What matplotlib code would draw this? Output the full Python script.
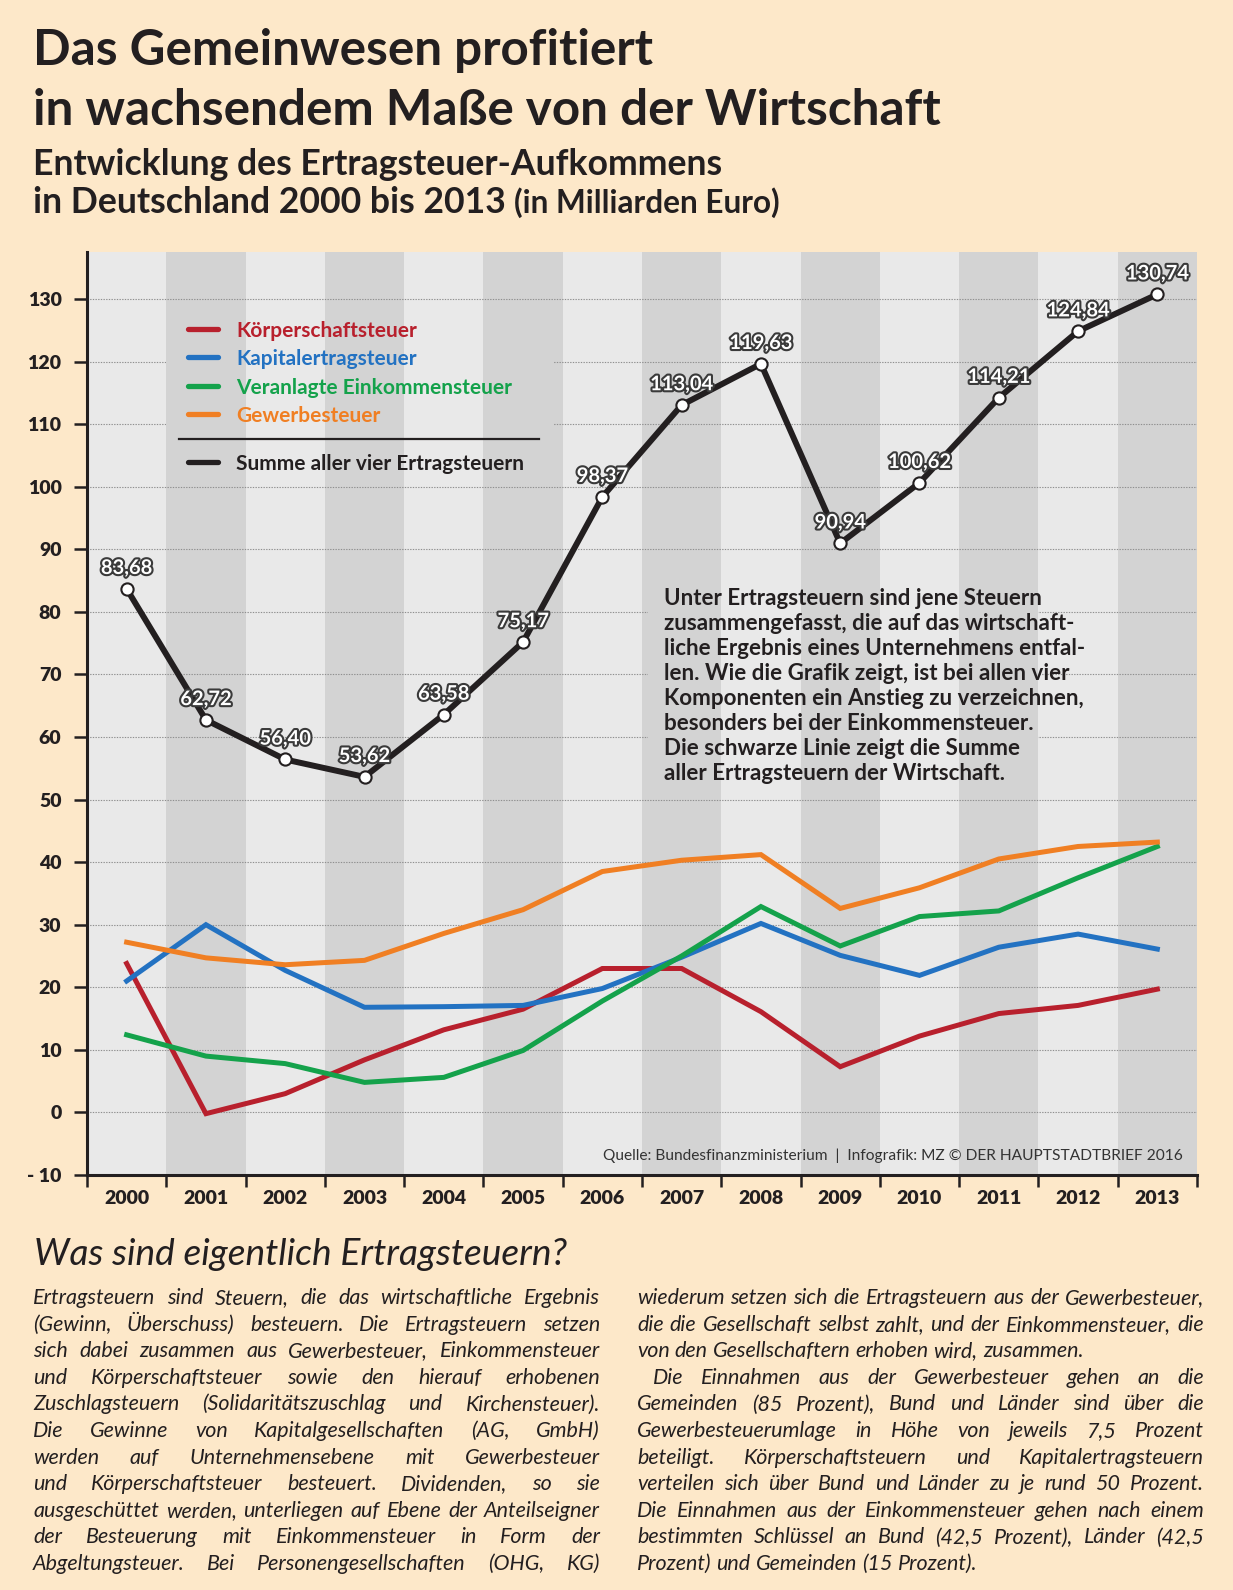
import matplotlib
matplotlib.use("Agg")
import matplotlib.pyplot as plt
import matplotlib.patheffects as pe
from matplotlib.patches import Rectangle
from matplotlib.lines import Line2D

# ---------------- data ----------------
years = [2000, 2001, 2002, 2003, 2004, 2005, 2006, 2007, 2008, 2009, 2010, 2011, 2012, 2013]
koerperschaftsteuer = [23.8, -0.2, 3.0, 8.4, 13.2, 16.5, 23.0, 23.0, 16.1, 7.3, 12.2, 15.8, 17.1, 19.7]
kapitalertragsteuer = [21.0, 30.0, 22.7, 16.8, 16.9, 17.1, 19.8, 24.8, 30.2, 25.1, 21.9, 26.4, 28.5, 26.1]
einkommensteuer = [12.4, 9.0, 7.8, 4.8, 5.6, 9.9, 17.8, 25.0, 32.9, 26.6, 31.3, 32.2, 37.5, 42.5]
gewerbesteuer = [27.2, 24.7, 23.6, 24.3, 28.6, 32.4, 38.5, 40.3, 41.2, 32.6, 35.9, 40.5, 42.5, 43.2]
summe = [83.68, 62.72, 56.40, 53.62, 63.58, 75.17, 98.37, 113.04, 119.63, 90.94, 100.62, 114.21, 124.84, 130.74]

series_names = ["Körperschaftsteuer", "Kapitalertragsteuer", "Veranlagte Einkommensteuer", "Gewerbesteuer"]
sum_name = "Summe aller vier Ertragsteuern"
y_ticks = [-10, 0, 10, 20, 30, 40, 50, 60, 70, 80, 90, 100, 110, 120, 130]

title_lines = ["Das Gemeinwesen profitiert", "in wachsendem Maße von der Wirtschaft"]
subtitle_1 = "Entwicklung des Ertragsteuer-Aufkommens"
subtitle_2 = "in Deutschland 2000 bis 2013"
subtitle_unit = "(in Milliarden Euro)"
note_lines = [
    "Unter Ertragsteuern sind jene Steuern",
    "zusammengefasst, die auf das wirtschaft-",
    "liche Ergebnis eines Unternehmens entfal-",
    "len. Wie die Grafik zeigt, ist bei allen vier",
    "Komponenten ein Anstieg zu verzeichnen,",
    "besonders bei der Einkommensteuer.",
    "Die schwarze Linie zeigt die Summe",
    "aller Ertragsteuern der Wirtschaft.",
]
source_text = "Quelle: Bundesfinanzministerium  |  Infografik: MZ © DER HAUPTSTADTBRIEF 2016"
heading = "Was sind eigentlich Ertragsteuern?"
left_col = [
    "Ertragsteuern sind Steuern, die das wirtschaftliche Ergebnis",
    "(Gewinn, Überschuss) besteuern. Die Ertragsteuern setzen",
    "sich dabei zusammen aus Gewerbesteuer, Einkommensteuer",
    "und Körperschaftsteuer sowie den hierauf erhobenen",
    "Zuschlagsteuern (Solidaritätszuschlag und Kirchensteuer).",
    "Die Gewinne von Kapitalgesellschaften (AG, GmbH)",
    "werden auf Unternehmensebene mit Gewerbesteuer",
    "und Körperschaftsteuer besteuert. Dividenden, so sie",
    "ausgeschüttet werden, unterliegen auf Ebene der Anteilseigner",
    "der Besteuerung mit Einkommensteuer in Form der",
    "Abgeltungsteuer. Bei Personengesellschaften (OHG, KG)",
]
right_col = [
    "wiederum setzen sich die Ertragsteuern aus der Gewerbesteuer,",
    "die die Gesellschaft selbst zahlt, und der Einkommensteuer, die",
    "von den Gesellschaftern erhoben wird, zusammen.",
    "Die Einnahmen aus der Gewerbesteuer gehen an die",
    "Gemeinden (85 Prozent), Bund und Länder sind über die",
    "Gewerbesteuerumlage in Höhe von jeweils 7,5 Prozent",
    "beteiligt. Körperschaftsteuern und Kapitalertragsteuern",
    "verteilen sich über Bund und Länder zu je rund 50 Prozent.",
    "Die Einnahmen aus der Einkommensteuer gehen nach einem",
    "bestimmten Schlüssel an Bund (42,5 Prozent), Länder (42,5",
    "Prozent) und Gemeinden (15 Prozent).",
]
right_last = {2, 10}      # paragraph-ending lines (not justified)
right_indent = {3}        # indented first line of paragraph
left_last = set()

# ---------------- style ----------------
W, H, DPI = 1233, 1590, 100
plt.rcParams['font.family'] = ['Lato', 'DejaVu Sans']
INK = '#231F20'
BG = '#FDE8C9'
BAND_L = '#E9E9E9'
BAND_D = '#D3D3D3'
GRID = '#8f8f8f'
COLORS = ['#B8202D', '#2372C2', '#14A24B', '#F07F23']

fig = plt.figure(figsize=(W / DPI, H / DPI), dpi=DPI, facecolor=BG)
renderer = fig.canvas.get_renderer()


def fx(x):
    return x / W


def fy(y):
    return 1 - y / H


def measure(s, size, **kw):
    t = fig.text(0.2, 0.5, s, fontsize=size, **kw)
    bb = t.get_window_extent(renderer)
    t.remove()
    return bb.width


def fit_size(s, target, base=20.0, **kw):
    return base * target / measure(s, base, **kw)


def ptext(x, y, s, **kw):
    return fig.text(fx(x), fy(y), s, va='baseline', **kw)


# ---------------- axes ----------------
AX_L, AX_R, AX_T, AX_B = 87, 1197, 252, 1175
ax = fig.add_axes([fx(AX_L), fy(AX_B), (AX_R - AX_L) / W, (AX_B - AX_T) / H])
ax.set_facecolor(BAND_L)
n = len(years)
xs = list(range(n))
ax.set_xlim(-0.5, n - 0.5)
ax.set_ylim(-10, 137.5)


def band_color(i):
    return BAND_D if i % 2 == 1 else BAND_L


for i in xs:
    if i % 2 == 1:
        ax.axvspan(i - 0.5, i + 0.5, color=BAND_D, lw=0, zorder=0.5)
for v in y_ticks[1:]:
    ax.axhline(v, color=GRID, lw=0.8, ls=(0, (1.2, 1.2)), zorder=1)


def cover(x0, x1, y0, y1):
    for i in xs:
        a, b = max(x0, i - 0.5), min(x1, i + 0.5)
        if b > a:
            ax.add_patch(Rectangle((a, y0), b - a, y1 - y0, facecolor=band_color(i),
                                   lw=0, zorder=1.5))


cover(0.5, 5.38, 101, 128)     # behind legend
cover(6.57, 11.5, 51, 89)      # behind the note text

for vals, c in zip([koerperschaftsteuer, kapitalertragsteuer, einkommensteuer, gewerbesteuer], COLORS):
    ax.plot(xs, vals, color=c, lw=3.6, solid_joinstyle='miter', zorder=3)

ax.plot(xs, summe, color=INK, lw=4.3, zorder=4, marker='o', markersize=8.8,
        markerfacecolor='white', markeredgecolor=INK, markeredgewidth=1.5)

for i, v in zip(xs, summe):
    ax.annotate(f"{v:.2f}".replace('.', ','), (i, v), xytext=(0, 15), textcoords='offset points',
                ha='center', va='center', fontsize=14.5, fontweight='bold', color='white', zorder=6,
                path_effects=[pe.withStroke(linewidth=3.0, foreground='#3a3a3a')])

# ticks
ax.set_yticks(y_ticks)
ax.set_yticklabels(['- 10' if v == -10 else str(v) for v in y_ticks])
ax.tick_params(axis='y', direction='out', length=9.4, width=1.8, color=INK, pad=9,
               labelsize=14, labelcolor=INK)
for lab in ax.get_yticklabels():
    lab.set_fontweight('heavy')
ax.set_xticks([i - 0.5 for i in range(n + 1)])
ax.set_xticklabels([])
ax.set_xticks(xs, minor=True)
ax.set_xticklabels([str(y) for y in years], minor=True)
ax.tick_params(axis='x', which='major', direction='out', length=8.6, width=1.8, color=INK)
ax.tick_params(axis='x', which='minor', length=0, pad=11, labelsize=14, labelcolor=INK)
for lab in ax.get_xticklabels(minor=True):
    lab.set_fontweight('heavy')
for s in ['top', 'right']:
    ax.spines[s].set_visible(False)
for s in ['left', 'bottom']:
    ax.spines[s].set_color(INK)
    ax.spines[s].set_linewidth(2.2)
    ax.spines[s].set_zorder(7)

# ---------------- legend (manual) ----------------
leg_rows = [329, 357, 386, 414]
for name, c, yy in zip(series_names, COLORS, leg_rows):
    fig.add_artist(Line2D([fx(188), fx(218)], [fy(yy), fy(yy)], color=c, lw=3.8,
                          solid_capstyle='round', transform=fig.transFigure, zorder=8))
    fig.text(fx(236), fy(yy), name, color=c, fontsize=15, fontweight='bold', va='center_baseline',
             zorder=8)
fig.add_artist(Line2D([fx(179), fx(539)], [fy(439), fy(439)], color=INK, lw=1.6,
                      transform=fig.transFigure, zorder=8))
fig.add_artist(Line2D([fx(188), fx(218)], [fy(462), fy(462)], color=INK, lw=3.8,
                      solid_capstyle='round', transform=fig.transFigure, zorder=8))
fig.text(fx(236), fy(462), sum_name, color=INK, fontsize=15, fontweight='bold',
         va='center_baseline', zorder=8)

# ---------------- note text inside chart ----------------
note_size = fit_size(note_lines[1], 411, weight='bold')
for k, line in enumerate(note_lines):
    ptext(664, 605 + 25 * k, line, fontsize=note_size, fontweight='bold', color=INK, zorder=8)

# source
src_size = fit_size(source_text, 582)
ptext(603, 1160, source_text, fontsize=src_size, color='#333333', zorder=8)

# ---------------- titles ----------------
s1 = fit_size(title_lines[0], 620, weight='bold')
s2 = fit_size(title_lines[1], 910, weight='bold')
ts = (s1 + s2) / 2
ptext(33, 65, title_lines[0], fontsize=ts, fontweight='bold', color=INK)
ptext(33, 125, title_lines[1], fontsize=ts, fontweight='bold', color=INK)

ss = fit_size(subtitle_1, 691, weight='bold')
ptext(33, 175, subtitle_1, fontsize=ss, fontweight='bold', color=INK)
ptext(33, 213, subtitle_2, fontsize=ss, fontweight='bold', color=INK)
us = fit_size(subtitle_unit, 266, weight='bold')
ptext(514, 213, subtitle_unit, fontsize=us, fontweight='bold', color=INK)

# ---------------- bottom text ----------------
hs = fit_size(heading, 533, style='italic')
ptext(34, 1265, heading, fontsize=hs, style='italic', color=INK)

base_size = fit_size("Ertragsteuern", 122, style='italic')


def justify(lines, x0, x1, y0, dy, last_set, indent_set):
    for k, line in enumerate(lines):
        y = y0 + dy * k
        start = x0 + (16 if k in indent_set else 0)
        avail = x1 - start
        size = base_size
        nat = measure(line, size, style='italic')
        if nat > avail * 0.99:
            size = size * avail * 0.99 / nat
        words = line.split()
        widths = [measure(wd, size, style='italic') for wd in words]
        space_w = measure("a a", size, style='italic') - measure("aa", size, style='italic')
        if k in last_set or len(words) == 1:
            gap = space_w
        else:
            gap = (avail - sum(widths)) / (len(words) - 1)
        x = start
        for wd, ww in zip(words, widths):
            ptext(x, y, wd, fontsize=size, style='italic', color=INK)
            x += ww + gap


justify(left_col, 33, 600, 1304, 26.6, left_last, set())
justify(right_col, 637, 1204, 1304, 26.6, right_last, right_indent)

fig.savefig('out.png', dpi=DPI, facecolor=BG)
